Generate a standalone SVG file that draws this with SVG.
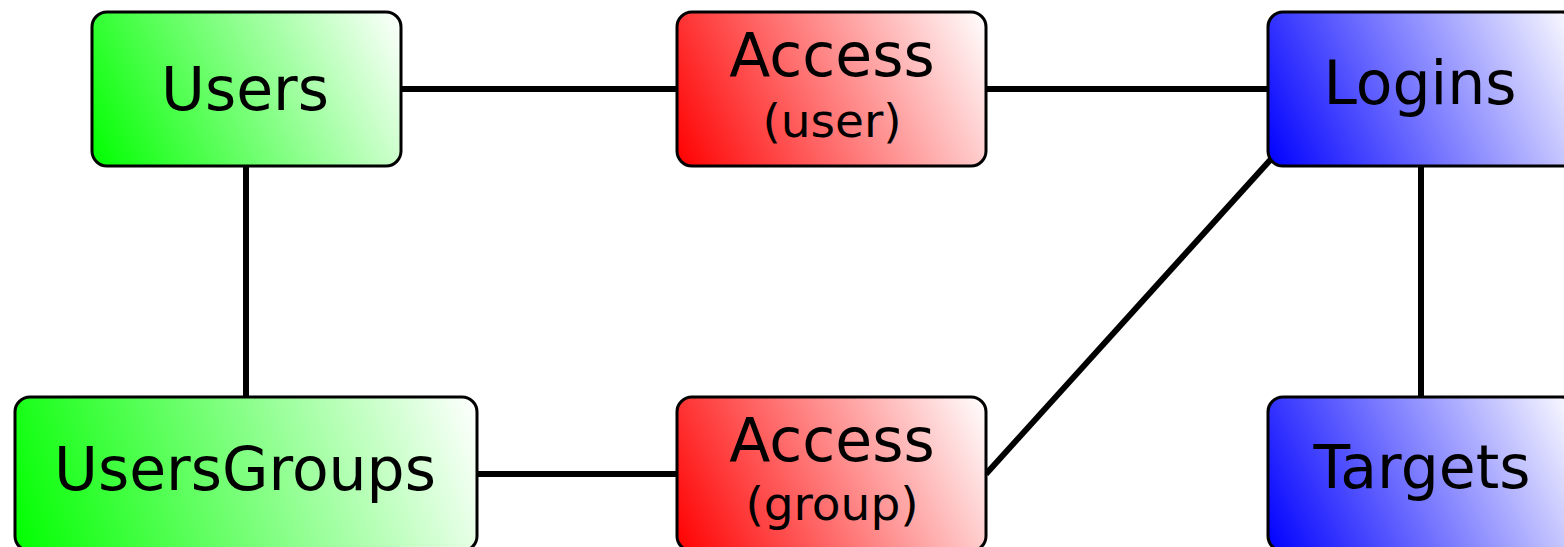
<svg xmlns="http://www.w3.org/2000/svg" xmlns:xlink="http://www.w3.org/1999/xlink" width="1564" height="547" viewBox="0 0 1564 547">
  <defs>
    <!-- base colour ramps: saturated at bottom-left, white at top-right -->
    <linearGradient id="rampGreen">
      <stop offset="0" stop-color="#00ff00"/>
      <stop offset="1" stop-color="#ffffff"/>
    </linearGradient>
    <linearGradient id="rampRed">
      <stop offset="0" stop-color="#ff0000"/>
      <stop offset="1" stop-color="#ffffff"/>
    </linearGradient>
    <linearGradient id="rampBlue">
      <stop offset="0" stop-color="#0000ff"/>
      <stop offset="1" stop-color="#ffffff"/>
    </linearGradient>
    <!-- per-box vectors, running corner to corner in user space -->
    <linearGradient id="gUsers" href="#rampGreen" xlink:href="#rampGreen" gradientUnits="userSpaceOnUse" x1="92" y1="166" x2="401" y2="12"/>
    <linearGradient id="gAccessUser" href="#rampRed" xlink:href="#rampRed" gradientUnits="userSpaceOnUse" x1="677" y1="166" x2="986" y2="12"/>
    <linearGradient id="gLogins" href="#rampBlue" xlink:href="#rampBlue" gradientUnits="userSpaceOnUse" x1="1268" y1="166" x2="1577" y2="12"/>
    <linearGradient id="gUsersGroups" href="#rampGreen" xlink:href="#rampGreen" gradientUnits="userSpaceOnUse" x1="15" y1="551" x2="477" y2="397"/>
    <linearGradient id="gAccessGroup" href="#rampRed" xlink:href="#rampRed" gradientUnits="userSpaceOnUse" x1="677" y1="551" x2="986" y2="397"/>
    <linearGradient id="gTargets" href="#rampBlue" xlink:href="#rampBlue" gradientUnits="userSpaceOnUse" x1="1268" y1="551" x2="1577" y2="397"/>
  </defs>
  <style>
    .box { stroke: #000; stroke-width: 3; }
    .edge { stroke: #000; stroke-width: 6; fill: none; }
    .big { font-family: "DejaVu Sans", "Liberation Sans", sans-serif; font-size: 60px; fill: #000; text-anchor: middle; }
    .small { font-family: "DejaVu Sans", "Liberation Sans", sans-serif; font-size: 47px; fill: #000; text-anchor: middle; }
  </style>

  <g id="connectors">
    <line class="edge" x1="401" y1="89" x2="677" y2="89"/>
    <line class="edge" x1="986" y1="89" x2="1268" y2="89"/>
    <line class="edge" x1="246" y1="166" x2="246" y2="397"/>
    <line class="edge" x1="477" y1="474" x2="677" y2="474"/>
    <line class="edge" x1="986" y1="474" x2="1272" y2="158"/>
    <line class="edge" x1="1421" y1="166" x2="1421" y2="397"/>
  </g>

  <g id="users">
    <rect class="box" x="92" y="12" width="309" height="154" rx="15" fill="url(#gUsers)"/>
    <text class="big" x="245" y="110">Users</text>
  </g>

  <g id="access-user">
    <rect class="box" x="677" y="12" width="309" height="154" rx="15" fill="url(#gAccessUser)"/>
    <text class="big" x="832" y="76">Access</text>
    <text class="small" x="832" y="137">(user)</text>
  </g>

  <g id="logins">
    <rect class="box" x="1268" y="12" width="309" height="154" rx="15" fill="url(#gLogins)"/>
    <text class="big" x="1420" y="104">Logins</text>
  </g>

  <g id="usersgroups">
    <rect class="box" x="15" y="397" width="462" height="154" rx="15" fill="url(#gUsersGroups)"/>
    <text class="big" x="245" y="490">UsersGroups</text>
  </g>

  <g id="access-group">
    <rect class="box" x="677" y="397" width="309" height="154" rx="15" fill="url(#gAccessGroup)"/>
    <text class="big" x="832" y="461">Access</text>
    <text class="small" x="832" y="520">(group)</text>
  </g>

  <g id="targets">
    <rect class="box" x="1268" y="397" width="309" height="154" rx="15" fill="url(#gTargets)"/>
    <text class="big" x="1422" y="488">Targets</text>
  </g>
</svg>
